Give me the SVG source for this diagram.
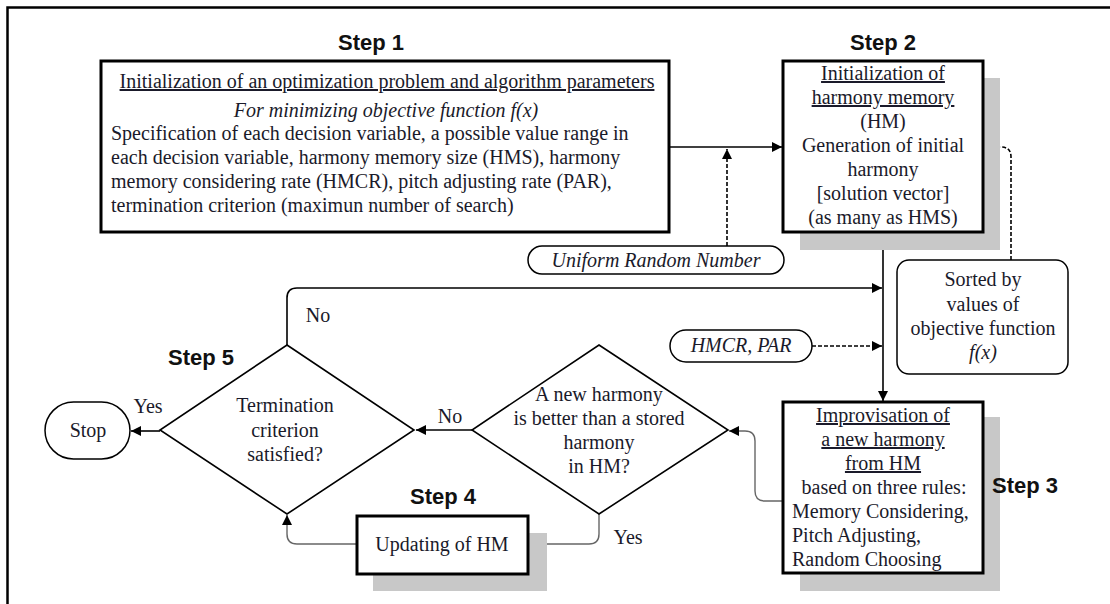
<svg xmlns="http://www.w3.org/2000/svg" width="1110" height="604" viewBox="0 0 1110 604">
<defs>
<marker id="ah" markerUnits="userSpaceOnUse" markerWidth="12" markerHeight="10" refX="10" refY="5" orient="auto">
<path d="M0,0 L10,5 L0,10 Z" fill="#000"/>
</marker>
<style>
.t{font-family:"Liberation Serif","Times New Roman",serif;font-size:20px;fill:#1a1a2a}
.c{text-anchor:middle}
.i{font-style:italic}
.u{text-decoration:underline}
.st{font-family:"Liberation Sans",Arial,sans-serif;font-weight:bold;font-size:22px;fill:#111;text-anchor:middle}
.box{fill:#fff;stroke:#000;stroke-width:3}
.sh{fill:#c8c8c8}
.dia{fill:#fff;stroke:#000;stroke-width:1.6}
.pill{fill:#fff;stroke:#000;stroke-width:1.5}
.ln{fill:none;stroke:#000;stroke-width:1.6;marker-end:url(#ah)}
.dash{fill:none;stroke:#000;stroke-width:1.6;stroke-dasharray:4 2;marker-end:url(#ah)}
.gl{fill:none;stroke:#666;stroke-width:1.4;marker-end:url(#ah)}
</style>
</defs>
<rect width="1110" height="604" fill="#fff"/>
<path d="M7.5,604 V7.5 H1110" fill="none" stroke="#000" stroke-width="2.5"/>

<g id="connectors">
<path class="ln" d="M669,147 H782"/>
<path class="dash" d="M727,246 V149"/>
<path class="dash" d="M1011,260 V157 Q1011,147 1001,147 H985"/>
<path class="ln" d="M883,232 V401"/>
<path class="ln" d="M287,345 V298 Q287,288 297,288 H882"/>
<path class="dash" d="M812,346 H882"/>
<path class="gl" d="M783,501 H765 Q755,501 755,491 V441 Q755,431 745,431 H729"/>
<path class="ln" d="M472,430 H416"/>
<path class="ln" d="M160,431 H131"/>
<path class="gl" d="M599,514 V534 Q599,544 589,544 H529"/>
<path class="gl" d="M357,544 H297 Q287,544 287,534 V515"/>
</g>

<g id="step1">
<text class="st" x="371" y="50">Step 1</text>
<rect class="box" x="101" y="61" width="568" height="171"/>
<text class="t c u" x="387" y="88">Initialization of an optimization problem and algorithm parameters</text>
<text class="t c i" x="386" y="117">For minimizing objective function f(x)</text>
<text class="t" x="111" y="140">Specification of each decision variable, a possible value range in</text>
<text class="t" x="111" y="164">each decision variable, harmony memory size (HMS), harmony</text>
<text class="t" x="111" y="188">memory considering rate (HMCR), pitch adjusting rate (PAR),</text>
<text class="t" x="111" y="212">termination criterion (maximun number of search)</text>
</g>

<g id="step2">
<text class="st" x="883" y="50">Step 2</text>
<rect class="sh" x="800" y="78" width="200" height="172"/>
<rect class="box" x="783" y="61" width="200" height="171"/>
<text class="t c u" x="883" y="80">Initialization of</text>
<text class="t c u" x="883" y="104">harmony memory</text>
<text class="t c" x="883" y="128">(HM)</text>
<text class="t c" x="883" y="152">Generation of initial</text>
<text class="t c" x="883" y="176">harmony</text>
<text class="t c" x="883" y="200">[solution vector]</text>
<text class="t c" x="883" y="224">(as many as HMS)</text>
</g>

<g id="uniform">
<rect class="pill" x="528" y="246" width="256" height="28" rx="14"/>
<text class="t c i" x="656" y="267">Uniform Random Number</text>
</g>

<g id="sorted">
<rect class="pill" x="897" y="260" width="171" height="114" rx="12"/>
<text class="t c" x="983" y="286">Sorted by</text>
<text class="t c" x="983" y="311">values of</text>
<text class="t c" x="983" y="335">objective function</text>
<text class="t c i" x="983" y="359">f(x)</text>
</g>

<g id="hmcr">
<rect class="pill" x="670" y="330" width="142" height="32" rx="16"/>
<text class="t c i" x="741" y="352">HMCR, PAR</text>
</g>

<g id="step3">
<rect class="sh" x="800" y="417" width="200" height="174"/>
<rect class="box" x="783" y="402" width="200" height="171"/>
<text class="t c u" x="883" y="422">Improvisation of</text>
<text class="t c u" x="883" y="446">a new harmony</text>
<text class="t c u" x="883" y="470">from HM</text>
<text class="t c" x="884" y="494">based on three rules:</text>
<text class="t" x="792" y="518">Memory Considering,</text>
<text class="t" x="792" y="542">Pitch Adjusting,</text>
<text class="t" x="792" y="566">Random Choosing</text>
<text class="st" x="1025" y="493">Step 3</text>
</g>

<g id="decisionA">
<path class="dia" d="M599,345 L728,430 L599,514 L472,430 Z"/>
<text class="t c" x="599" y="401">A new harmony</text>
<text class="t c" x="599" y="425">is better than a stored</text>
<text class="t c" x="599" y="449">harmony</text>
<text class="t c" x="599" y="473">in HM?</text>
<text class="t c" x="450" y="423">No</text>
<text class="t c" x="628" y="544">Yes</text>
</g>

<g id="step4">
<text class="st" x="443" y="504">Step 4</text>
<rect class="sh" x="373" y="533" width="174" height="58"/>
<rect class="box" x="357" y="516" width="171" height="58"/>
<text class="t c" x="442" y="551">Updating of HM</text>
</g>

<g id="step5">
<text class="st" x="201" y="365">Step 5</text>
<path class="dia" d="M287,345 L414,430 L287,514 L160,430 Z"/>
<text class="t c" x="285" y="412">Termination</text>
<text class="t c" x="285" y="437">criterion</text>
<text class="t c" x="285" y="461">satisfied?</text>
<text class="t c" x="148" y="413">Yes</text>
<text class="t c" x="318" y="322">No</text>
</g>

<g id="stop">
<rect class="pill" x="45" y="402" width="85" height="57" rx="28.5"/>
<text class="t c" x="88" y="437">Stop</text>
</g>
</svg>
